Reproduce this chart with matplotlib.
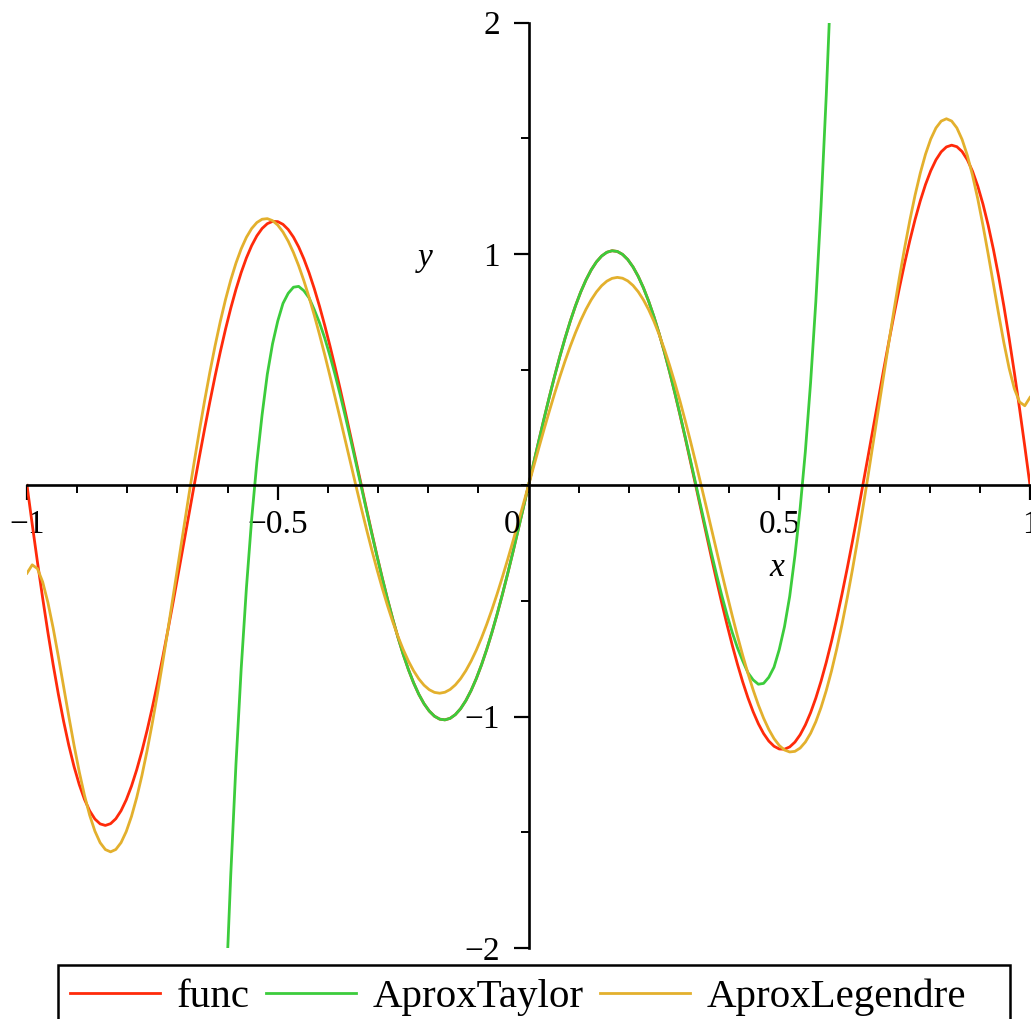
import numpy as np
import matplotlib
matplotlib.use('Agg')
import matplotlib.pyplot as plt
from matplotlib.patches import Rectangle
from matplotlib.ticker import FixedLocator, MultipleLocator

plt.rcParams['font.family'] = ['Liberation Serif', 'DejaVu Serif']

# sample points on [-1, 1], step 1/96
x_vals = np.linspace(-1, 1, 193)

func_y = [
    0.0, -0.1686, -0.3317, -0.4878, -0.6360, -0.7745, -0.9028, -1.0195,
    -1.1240, -1.2156, -1.2937, -1.3577, -1.4075, -1.4429, -1.4639, -1.4705,
    -1.4629, -1.4417, -1.4071, -1.3598, -1.3006, -1.2299, -1.1490, -1.0585,
    -0.9597, -0.8534, -0.7409, -0.6234, -0.5018, -0.3775, -0.2517, -0.1254,
    0.0, 0.1235, 0.2440, 0.3602, 0.4715, 0.5766, 0.6748, 0.7651,
    0.8470, 0.9199, 0.9831, 1.0360, 1.0785, 1.1103, 1.1311, 1.1410,
    1.1400, 1.1282, 1.1058, 1.0732, 1.0308, 0.9789, 0.9184, 0.8497,
    0.7736, 0.6909, 0.6022, 0.5089, 0.4114, 0.3108, 0.2080, 0.1041,
    0.0, -0.1034, -0.2050, -0.3041, -0.3996, -0.4908, -0.5766, -0.6566,
    -0.7298, -0.7958, -0.8538, -0.9035, -0.9443, -0.9760, -0.9983, -1.0110,
    -1.0141, -1.0075, -0.9913, -0.9658, -0.9312, -0.8877, -0.8360, -0.7764,
    -0.7096, -0.6361, -0.5567, -0.4720, -0.3830, -0.2904, -0.1951, -0.0980,
    0.0,
    0.0980, 0.1951, 0.2904, 0.3830, 0.4720, 0.5567, 0.6361, 0.7096,
    0.7764, 0.8360, 0.8877, 0.9312, 0.9658, 0.9913, 1.0075, 1.0141,
    1.0110, 0.9983, 0.9760, 0.9443, 0.9035, 0.8538, 0.7958, 0.7298,
    0.6566, 0.5766, 0.4908, 0.3996, 0.3041, 0.2050, 0.1034, 0.0,
    -0.1041, -0.2080, -0.3108, -0.4114, -0.5089, -0.6022, -0.6909, -0.7736,
    -0.8497, -0.9184, -0.9789, -1.0308, -1.0732, -1.1058, -1.1282, -1.1400,
    -1.1410, -1.1311, -1.1103, -1.0785, -1.0360, -0.9831, -0.9199, -0.8470,
    -0.7651, -0.6748, -0.5766, -0.4715, -0.3602, -0.2440, -0.1235, 0.0,
    0.1254, 0.2517, 0.3775, 0.5018, 0.6234, 0.7409, 0.8534, 0.9597,
    1.0585, 1.1490, 1.2299, 1.3006, 1.3598, 1.4071, 1.4417, 1.4629,
    1.4705, 1.4639, 1.4429, 1.4075, 1.3577, 1.2937, 1.2156, 1.1240,
    1.0195, 0.9028, 0.7745, 0.6360, 0.4878, 0.3317, 0.1686, 0.0,
]

legendre_y = [
    -0.3800, -0.3439, -0.3603, -0.4178, -0.5065, -0.6164, -0.7399, -0.8693,
    -0.9989, -1.1231, -1.2384, -1.3401, -1.4266, -1.4952, -1.5451, -1.5748,
    -1.5847, -1.5745, -1.5450, -1.4969, -1.4316, -1.3501, -1.2544, -1.1458,
    -1.0264, -0.8979, -0.7622, -0.6209, -0.4761, -0.3305, -0.1851, -0.0410,
    0.0998, 0.2358, 0.3659, 0.4884, 0.6028, 0.7079, 0.8030, 0.8873,
    0.9605, 1.0222, 1.0722, 1.1100, 1.1360, 1.1503, 1.1529, 1.1443,
    1.1249, 1.0951, 1.0555, 1.0067, 0.9496, 0.8845, 0.8127, 0.7347,
    0.6514, 0.5638, 0.4724, 0.3788, 0.2833, 0.1868, 0.0903, -0.0053,
    -0.0993, -0.1910, -0.2794, -0.3642, -0.4444, -0.5196, -0.5890, -0.6525,
    -0.7093, -0.7592, -0.8018, -0.8369, -0.8642, -0.8837, -0.8953, -0.8989,
    -0.8947, -0.8826, -0.8629, -0.8359, -0.8017, -0.7607, -0.7133, -0.6600,
    -0.6012, -0.5374, -0.4691, -0.3969, -0.3215, -0.2435, -0.1634, -0.0820,
    0.0,
    0.0820, 0.1634, 0.2435, 0.3215, 0.3969, 0.4691, 0.5374, 0.6012,
    0.6600, 0.7133, 0.7607, 0.8017, 0.8359, 0.8629, 0.8826, 0.8947,
    0.8989, 0.8953, 0.8837, 0.8642, 0.8369, 0.8018, 0.7592, 0.7093,
    0.6525, 0.5890, 0.5196, 0.4444, 0.3642, 0.2794, 0.1910, 0.0993,
    0.0053, -0.0903, -0.1868, -0.2833, -0.3788, -0.4724, -0.5638, -0.6514,
    -0.7347, -0.8127, -0.8845, -0.9496, -1.0067, -1.0555, -1.0951, -1.1249,
    -1.1443, -1.1529, -1.1503, -1.1360, -1.1100, -1.0722, -1.0222, -0.9605,
    -0.8873, -0.8030, -0.7079, -0.6028, -0.4884, -0.3659, -0.2358, -0.0998,
    0.0410, 0.1851, 0.3305, 0.4761, 0.6209, 0.7622, 0.8979, 1.0264,
    1.1458, 1.2544, 1.3501, 1.4316, 1.4969, 1.5450, 1.5745, 1.5847,
    1.5748, 1.5451, 1.4952, 1.4266, 1.3401, 1.2384, 1.1231, 0.9989,
    0.8693, 0.7399, 0.6164, 0.5065, 0.4178, 0.3603, 0.3439, 0.3800,
]

# Taylor polynomial only sampled where it stays near the window
x_taylor = np.linspace(-58 / 96, 58 / 96, 117)

taylor_y = [
    -2.2408, -1.6861, -1.2064, -0.7933, -0.4443, -0.1471, 0.0993, 0.3042,
    0.4800, 0.6114, 0.7100, 0.7863, 0.8300, 0.8564, 0.8600, 0.8413,
    0.8100, 0.7589, 0.7026, 0.6358, 0.5597, 0.4764, 0.3867, 0.2921,
    0.1940, 0.0937, -0.0076, -0.1089, -0.2090, -0.3069, -0.4016, -0.4921,
    -0.5776, -0.6566, -0.7298, -0.7958, -0.8538, -0.9035, -0.9443, -0.9760,
    -0.9983, -1.0110, -1.0141, -1.0075, -0.9913, -0.9658, -0.9312, -0.8877,
    -0.8360, -0.7764, -0.7096, -0.6361, -0.5567, -0.4720, -0.3830, -0.2904,
    -0.1951, -0.0980,
    0.0,
    0.0980, 0.1951, 0.2904, 0.3830, 0.4720, 0.5567, 0.6361, 0.7096,
    0.7764, 0.8360, 0.8877, 0.9312, 0.9658, 0.9913, 1.0075, 1.0141,
    1.0110, 0.9983, 0.9760, 0.9443, 0.9035, 0.8538, 0.7958, 0.7298,
    0.6566, 0.5776, 0.4921, 0.4016, 0.3069, 0.2090, 0.1089, 0.0076,
    -0.0937, -0.1940, -0.2921, -0.3867, -0.4764, -0.5597, -0.6358, -0.7026,
    -0.7589, -0.8100, -0.8413, -0.8600, -0.8564, -0.8300, -0.7863, -0.7100,
    -0.6114, -0.4800, -0.3042, -0.0993, 0.1471, 0.4443, 0.7933, 1.2064,
    1.6861, 2.2408,
]

series_names = ['func', 'AproxTaylor', 'AproxLegendre']
series_colors = ['#ff2a0a', '#3ccc3c', '#e3b02d']

x_major = [-1, -0.5, 0.5, 1]
x_major_labels = ['\u22121', '\u22120.5', '0.5', '1']
y_major = [-2, -1, 1, 2]
y_major_labels = ['\u22122', '\u22121', '1', '2']

fig = plt.figure(figsize=(10.31, 10.19), dpi=100)
ax = fig.add_axes([27 / 1031, 71.1 / 1019, 1003 / 1031, 925.2 / 1019])

lines = []
lines += ax.plot(x_vals, func_y, color=series_colors[0], lw=2.0)
lines += ax.plot(x_taylor, taylor_y, color=series_colors[1], lw=2.0)
lines += ax.plot(x_vals, legendre_y, color=series_colors[2], lw=2.0)

ax.set_xlim(-1, 1)
ax.set_ylim(-2, 2)

# axes crossing at the origin
for side in ['top', 'right']:
    ax.spines[side].set_visible(False)
for side in ['left', 'bottom']:
    ax.spines[side].set_position(('data', 0))
    ax.spines[side].set_linewidth(1.9)

ax.xaxis.set_major_locator(FixedLocator(x_major))
ax.xaxis.set_minor_locator(MultipleLocator(0.1))
ax.set_xticklabels(x_major_labels)
ax.yaxis.set_major_locator(FixedLocator(y_major))
ax.yaxis.set_minor_locator(MultipleLocator(0.5))
ax.set_yticklabels(y_major_labels)

ax.tick_params(axis='both', which='major', direction='out', length=10.5,
               width=1.6, labelsize=24)
ax.tick_params(axis='both', which='minor', direction='out', length=5.5,
               width=1.4)
ax.tick_params(axis='x', which='major', pad=7)
ax.tick_params(axis='y', which='major', pad=10)

# origin label sits left of the vertical axis
ax.annotate('0', xy=(0, 0), xytext=(-12, -17.5), textcoords='offset points',
            ha='center', va='top', fontsize=24)

ax.text(0.4955, -0.355, 'x', style='italic', fontsize=24,
        ha='center', va='center')
ax.text(-0.2064, 0.985, 'y', style='italic', fontsize=24,
        ha='center', va='center')

# legend box runs off the bottom edge
fig.patches.append(Rectangle((58 / 1031, -0.02), 952 / 1031, 0.0730,
                             transform=fig.transFigure, fill=False,
                             edgecolor='black', linewidth=1.8))
fig.legend(lines, series_names, loc='center left',
           bbox_to_anchor=(70 / 1031, 22 / 1019), ncol=3, fontsize=29.5,
           frameon=False, handlelength=2.2, handletextpad=0.41,
           columnspacing=0.39, borderpad=0, borderaxespad=0)

fig.savefig('out.png', dpi=100)
